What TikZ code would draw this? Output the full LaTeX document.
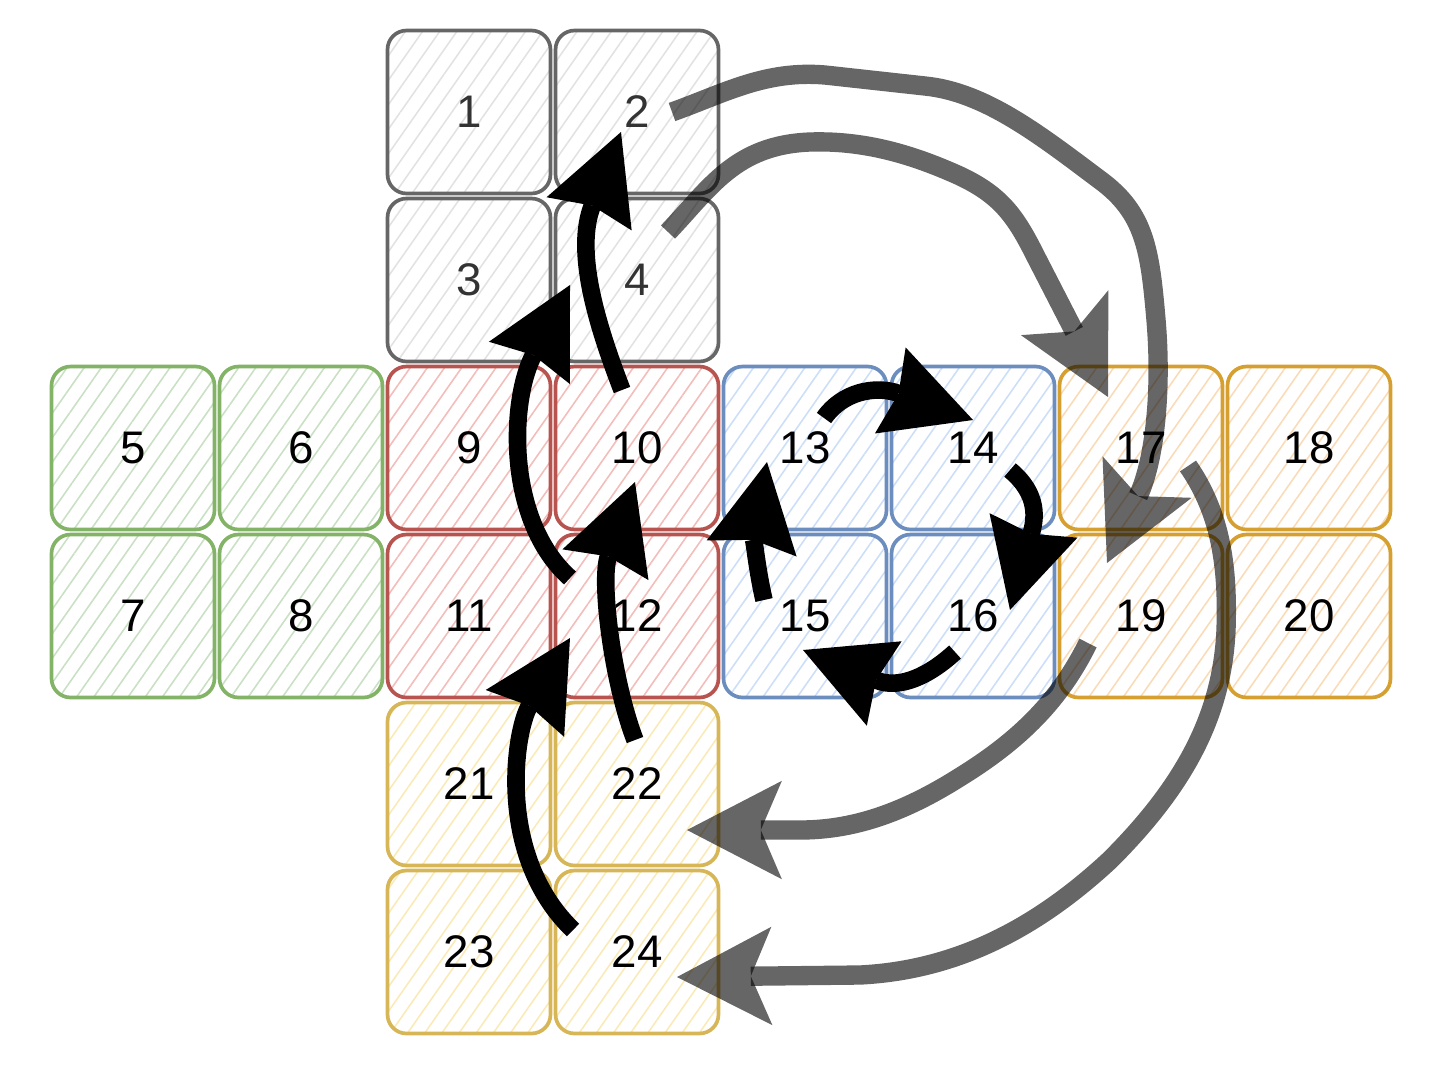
\documentclass[tikz,border=0pt]{standalone}
\usepackage{fontspec}
\setmainfont{Liberation Sans}
\usetikzlibrary{arrows.meta,patterns.meta}

\definecolor{grayline}{HTML}{666666}
\definecolor{grayhatch}{HTML}{E2E2E2}
\definecolor{graytext}{HTML}{333333}
\definecolor{greenline}{HTML}{82B366}
\definecolor{greenhatch}{HTML}{C9E0C5}
\definecolor{redline}{HTML}{B85450}
\definecolor{redhatch}{HTML}{F2BDBA}
\definecolor{blueline}{HTML}{6C8EBF}
\definecolor{bluehatch}{HTML}{CCDEF8}
\definecolor{orangeline}{HTML}{D6A030}
\definecolor{orangehatch}{HTML}{FADBB8}
\definecolor{yellowline}{HTML}{D6B656}
\definecolor{yellowhatch}{HTML}{FAEAB8}

\begin{document}
\begin{tikzpicture}[x=0.02cm,y=-0.02cm,
  cell/.style={draw,line width=2.1pt,rounded corners=0.38cm,minimum size=3.26cm,
    font=\fontsize{26}{30}\selectfont,
    pattern={Lines[angle=55,distance=8pt,line width=0.9pt]}},
  gray cell/.style={cell,draw=grayline,pattern color=grayhatch,text=graytext},
  green cell/.style={cell,draw=greenline,pattern color=greenhatch},
  red cell/.style={cell,draw=redline,pattern color=redhatch},
  blue cell/.style={cell,draw=blueline,pattern color=bluehatch},
  orange cell/.style={cell,draw=orangeline,pattern color=orangehatch},
  yellow cell/.style={cell,draw=yellowline,pattern color=yellowhatch},
  move/.style={line width=10pt,-{Stealth[length=50pt,width=52pt,inset=5pt,line width=0pt]}},
  wrap/.style={line width=11pt,opacity=0.6,-{Stealth[length=54pt,width=56pt,inset=12pt,line width=0pt]}}]

  \useasboundingbox (0,0) rectangle (1436,1076);

  % top face
  \node[gray cell] (1) at (469,112) {1};
  \node[gray cell] (2) at (637,112) {2};
  \node[gray cell] (3) at (469,280) {3};
  \node[gray cell] (4) at (637,280) {4};
  % left face
  \node[green cell] (5) at (133,448) {5};
  \node[green cell] (6) at (301,448) {6};
  \node[green cell] (7) at (133,616) {7};
  \node[green cell] (8) at (301,616) {8};
  % front face
  \node[red cell] (9) at (469,448) {9};
  \node[red cell] (10) at (637,448) {10};
  \node[red cell] (11) at (469,616) {11};
  \node[red cell] (12) at (637,616) {12};
  % right face
  \node[blue cell] (13) at (805,448) {13};
  \node[blue cell] (14) at (973,448) {14};
  \node[blue cell] (15) at (805,616) {15};
  \node[blue cell] (16) at (973,616) {16};
  % back face
  \node[orange cell] (17) at (1141,448) {17};
  \node[orange cell] (18) at (1309,448) {18};
  \node[orange cell] (19) at (1141,616) {19};
  \node[orange cell] (20) at (1309,616) {20};
  % bottom face
  \node[yellow cell] (21) at (469,784) {21};
  \node[yellow cell] (22) at (637,784) {22};
  \node[yellow cell] (23) at (469,952) {23};
  \node[yellow cell] (24) at (637,952) {24};

  % arrow ends
  \coordinate (s24) at (573,930);  \coordinate (t12) at (570,638);
  \coordinate (s22) at (635,740);  \coordinate (t10) at (635,482);
  \coordinate (s11) at (570,578);  \coordinate (t3) at (570,285);
  \coordinate (s10) at (622,390);  \coordinate (t2) at (621,132);
  \coordinate (s15) at (764,600);  \coordinate (t13) at (767,462);
  \coordinate (s13) at (824,418);  \coordinate (t14) at (973,420);
  \coordinate (s14) at (1010,470); \coordinate (t16) at (1010,610);
  \coordinate (s16) at (955,652);  \coordinate (t15) at (803,650);
  \coordinate (s2) at (672,112);   \coordinate (t19) at (1107,563);
  \coordinate (s4) at (668,232);   \coordinate (t17) at (1108,397);
  \coordinate (s17) at (1188,466); \coordinate (t24) at (677,977);
  \coordinate (s19) at (1088,643); \coordinate (t22) at (687,830);

  % turning the front column
  \draw[move] (s24) .. controls (495,855) and (515,730) .. (t12);
  \draw[move] (s22) .. controls (612,680) and (600,580) .. (t10);
  \draw[move] (s11) .. controls (505,520) and (510,400) .. (t3);
  \draw[move] (s10) .. controls (595,320) and (575,250) .. (t2);
  % turning the right face
  \draw[move] (s15) .. controls (756,565) and (754,535) .. (t13);
  \draw[move] (s13) .. controls (842,392) and (875,385) .. (t14);
  \draw[move] (s14) .. controls (1040,495) and (1035,520) .. (t16);
  \draw[move] (s16) .. controls (930,675) and (900,690) .. (t15);

  % wrapping round the back
  \draw[wrap] (s2) .. controls (725,93) and (765,70) .. (825,75) -- (925,86)
    .. controls (985,92) and (1040,135) .. (1100,180)
    .. controls (1145,213) and (1150,250) .. (1156,320)
    .. controls (1162,390) and (1155,460) .. (t19);
  \draw[wrap] (s4) .. controls (710,188) and (735,145) .. (810,142)
    .. controls (870,140) and (920,158) .. (960,176)
    .. controls (1000,195) and (1015,215) .. (1035,255) -- (t17);
  \draw[wrap] (s17) .. controls (1222,515) and (1228,570) .. (1226,630)
    .. controls (1222,720) and (1180,790) .. (1110,860)
    .. controls (1040,925) and (960,970) .. (860,975) -- (t24);
  \draw[wrap] (s19) .. controls (1060,700) and (1020,740) .. (960,777)
    .. controls (900,815) and (850,830) .. (800,830) -- (t22);
\end{tikzpicture}
\end{document}
